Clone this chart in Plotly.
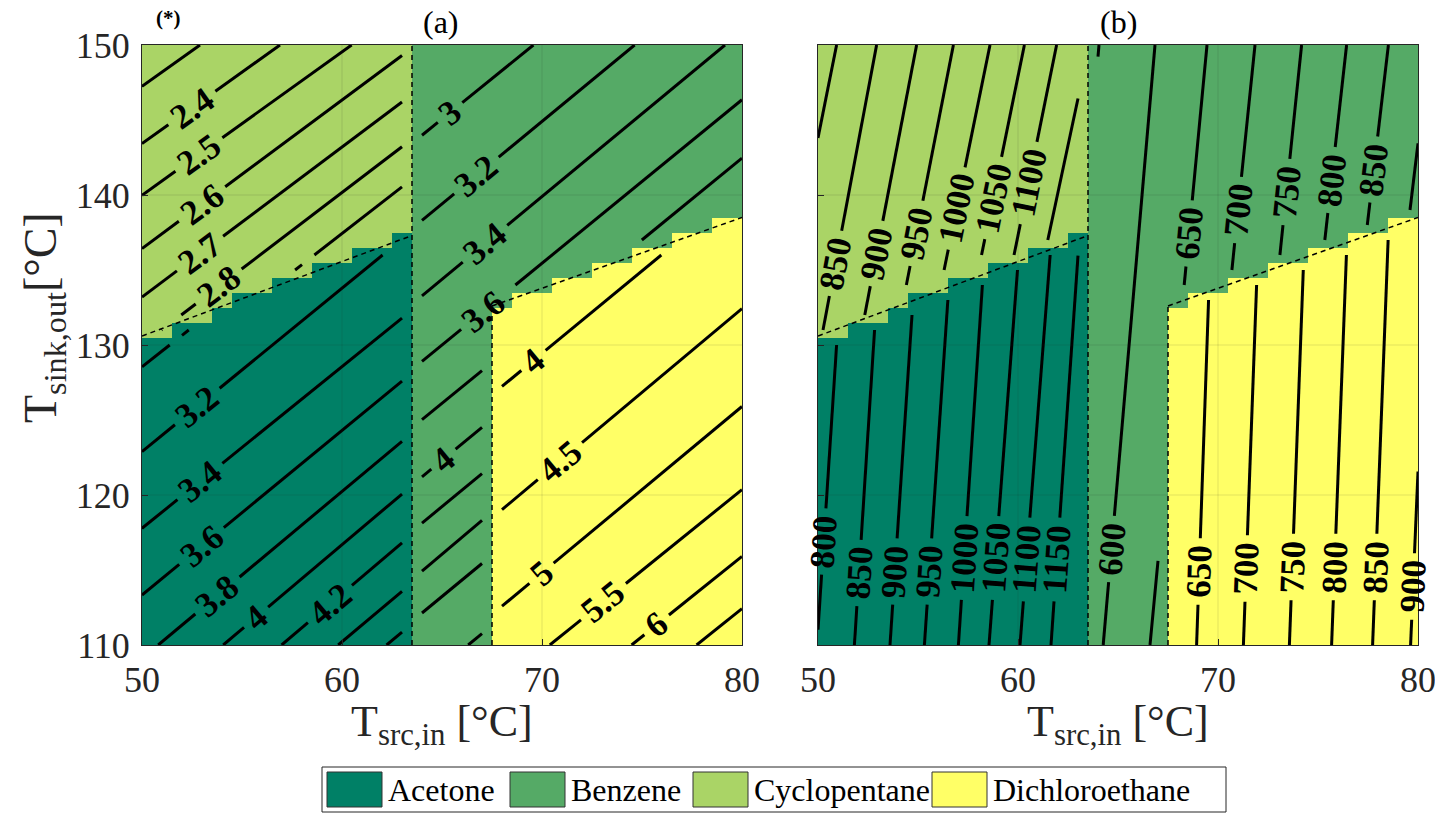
import math
import plotly.graph_objects as go

# ---------------------------------------------------------------- data
FLUIDS = ["Acetone", "Benzene", "Cyclopentane", "Dichloroethane"]
FLUID_COLORS = ["rgb(0,128,102)", "rgb(85,170,102)", "rgb(170,212,102)", "rgb(255,255,102)"]

t_src = list(range(50, 81))     # °C, grid nodes
t_sink = list(range(110, 151))  # °C, grid nodes

# optimal-fluid map (same for both panels)
cyc_first_sink = [131, 131, 132, 132, 133, 134, 134, 135, 135, 136, 136, 137, 137, 138]  # Tsrc 50..63
benzene_src = [64, 65, 66, 67]
dce_last_sink = [132, 133, 133, 134, 134, 135, 135, 136, 136, 137, 137, 138, 138]        # Tsrc 68..80

# smoothed region borders (dashed)
ac_cyc_border_src = [50.0, 63.5]
ac_cyc_border_sink = [130.6, 137.3]
bz_dce_border_src = [67.5, 80.0]
bz_dce_border_sink = [132.6, 138.5]
split1_src, split1_sink = [63.5, 63.5], [110.0, 150.0]
split2_src, split2_sink = [67.5, 67.5], [110.0, 132.6]

# Isolines: Tsrc where each isoline meets Tsink = 110 °C and Tsink = 150 °C,
# plus the Tsink at which its inline label sits (None = no label)
# ---- panel (a): COP
a_ace_levels = [3.0, 3.2, 3.4, 3.6, 3.8, 4.0, 4.2, 4.4, 4.6]
a_ace_src110 = [32.34, 38.18, 42.78, 46.96, 50.81, 54.06, 56.98, 59.81, 62.23]
a_ace_src150 = [70.43, 74.87, 79.90, 83.42, 86.72, 89.59, 92.38, 95.52, 97.95]
a_ace_lab = [None, 125.9, 120.9, 116.6, 113.3, 111.85, 112.73, None, None]

a_bz_levels = [3.0, 3.2, 3.4, 3.6, 3.8, 4.0, 4.2, 4.4, 4.6, 4.8]
a_bz_src110 = [32.53, 38.27, 42.92, 46.65, 50.22, 53.81, 56.61, 59.63, 62.06, 66.31]
a_bz_src150 = [69.57, 74.63, 79.15, 83.35, 86.92, 90.17, 92.98, 95.09, 98.43, 102.7]
a_bz_lab = [145.5, 141.3, 136.75, 132.26, None, 122.39, None, None, None, None]

a_cyc_levels = [2.3, 2.4, 2.5, 2.6, 2.7, 2.8, 2.9]
a_cyc_src110 = [10.8, 14.93, 18.64, 23.30, 26.80, 30.31, 33.53]
a_cyc_src150 = [52.9, 56.90, 60.48, 63.71, 66.80, 69.68, 72.13]
a_cyc_lab = [None, 145.8, 142.7, 139.4, 136.1, 133.9, None]

a_dce_levels = [4.0, 4.5, 5.0, 5.5, 6.0, 6.5]
a_dce_src110 = [52.33, 59.92, 65.67, 70.39, 74.48, 77.73]
a_dce_src150 = [88.69, 95.73, 101.71, 107.5, 111.86, 115.1]
a_dce_lab = [128.97, 122.26, 114.78, 112.89, 111.34, None]

# ---- panel (b)
b_ace_levels = [800, 850, 900, 950, 1000, 1050, 1100, 1150]
b_ace_src110 = [49.95, 51.82, 53.60, 55.32, 57.02, 58.55, 60.10, 61.65]
b_ace_src150 = [51.91, 53.74, 55.60, 57.36, 59.02, 60.83, 62.42, 63.73]
b_ace_lab = [116.9, 114.8, 114.9, 114.9, 115.8, 115.8, 115.7, 115.7]

b_bz_levels = [550, 600, 650, 700, 750, 800, 850, 900]
b_bz_src110 = [61.45, 64.26, 66.60, 68.77, 71.08, 73.08, 75.00, 76.99]
b_bz_src150 = [64.05, 66.85, 69.45, 71.85, 74.18, 76.43, 78.52, 80.59]
b_bz_lab = [None, 116.4, 137.44, 139.0, 140.2, 141.0, 141.7, None]

b_cyc_levels = [800, 850, 900, 950, 1000, 1050, 1100, 1150]
b_cyc_src110 = [44.93, 47.29, 49.17, 50.89, 52.48, 54.20, 55.85, 57.17]
b_cyc_src150 = [50.93, 52.93, 54.93, 56.77, 58.60, 60.32, 61.93, 63.57]
b_cyc_lab = [None, 135.44, 136.1, 137.44, 139.1, 139.8, 140.8, None]

b_dce_levels = [650, 700, 750, 800, 850, 900]
b_dce_src110 = [68.93, 71.27, 73.57, 75.68, 77.73, 79.63]
b_dce_src150 = [69.97, 72.37, 74.68, 76.82, 78.88, 80.91]
b_dce_lab = [114.9, 115.1, 115.2, 115.2, 115.2, 113.9]

x_ticks = [50, 60, 70, 80]
y_ticks = [110, 120, 130, 140, 150]

# ---------------------------------------------------------------- geometry
W, H = 1435, 813
PANEL_PX = [(142, 742), (818, 1418)]
TOP_PX, BOT_PX = 45, 645
X_RANGE = [50, 80]
Y_RANGE = [110, 150]
PX_PER_X = (PANEL_PX[0][1] - PANEL_PX[0][0]) / (X_RANGE[1] - X_RANGE[0])
PX_PER_Y = (BOT_PX - TOP_PX) / (Y_RANGE[1] - Y_RANGE[0])
SERIF = "Liberation Serif, Times New Roman, serif"
INK = "#262626"
LABEL_SIZE = 35


def px_x(p):
    return p / W


def px_y(p):
    return 1 - p / H


# fluid index at every node
fluid_map = []
for ys in t_sink:
    row = []
    for xs in t_src:
        if xs <= 63:
            k = 2 if ys >= cyc_first_sink[xs - 50] else 0
        elif xs in benzene_src:
            k = 1
        else:
            k = 3 if ys <= dce_last_sink[xs - 68] else 1
        row.append(k)
    fluid_map.append(row)


def node_span(col, k):
    ys = [t_sink[j] for j in range(len(t_sink)) if fluid_map[j][col] == k]
    return (min(ys), max(ys)) if ys else None


def valid_cells(k):
    """Column strips whose four corner nodes all belong to fluid k."""
    strips = []
    for i in range(len(t_src) - 1):
        a, b = node_span(i, k), node_span(i + 1, k)
        if a and b:
            lo, hi = max(a[0], b[0]), min(a[1], b[1])
            if hi > lo:
                strips.append((t_src[i], t_src[i + 1], lo, hi))
    return strips


def clip(p0, d, rect):
    x0, y0 = p0
    dx, dy = d
    xmin, xmax, ymin, ymax = rect
    t0, t1 = -1e9, 1e9
    for p, q in ((-dx, x0 - xmin), (dx, xmax - x0), (-dy, y0 - ymin), (dy, ymax - y0)):
        if abs(p) < 1e-12:
            if q < 0:
                return None
        else:
            r = q / p
            if p < 0:
                t0 = max(t0, r)
            else:
                t1 = min(t1, r)
    return (t0, t1) if t0 < t1 - 1e-9 else None


def label_width(s):
    return sum(0.5 if c.isdigit() else 0.25 for c in s) * LABEL_SIZE


def isolines(levels, src110, src150, lab_sink, k, xref, yref):
    strips = valid_cells(k)
    xs, ys, notes = [], [], []
    for lev, xa, xb, ls in zip(levels, src110, src150, lab_sink):
        p0 = (xa, 110.0)
        d = (xb - xa, 40.0)
        ivs = sorted(filter(None, (clip(p0, d, r) for r in strips)))
        merged = []
        for iv in ivs:
            if merged and iv[0] <= merged[-1][1] + 1e-6:
                merged[-1] = (merged[-1][0], max(merged[-1][1], iv[1]))
            else:
                merged.append(iv)
        if ls is not None:
            text = f"{lev:g}"
            tl = (ls - 110.0) / 40.0
            plen = math.hypot(d[0] * PX_PER_X, d[1] * PX_PER_Y)
            half = (label_width(text) / 2 + 7) / plen
            cut = []
            for a, b in merged:
                if b <= tl - half or a >= tl + half:
                    cut.append((a, b))
                else:
                    if a < tl - half:
                        cut.append((a, tl - half))
                    if b > tl + half:
                        cut.append((tl + half, b))
            merged = cut
            ang = math.degrees(math.atan2(d[1] * PX_PER_Y, d[0] * PX_PER_X))
            notes.append(dict(
                x=xa + tl * d[0], y=ls, xref=xref, yref=yref,
                text=f"<b>{text}</b>", showarrow=False, textangle=-ang,
                xanchor="center", yanchor="middle",
                font=dict(family=SERIF, size=LABEL_SIZE, color="black"),
            ))
        for a, b in merged:
            xs += [xa + a * d[0], xa + b * d[0], None]
            ys += [110 + a * d[1], 110 + b * d[1], None]
    return xs, ys, notes


fig = go.Figure()
annotations = []

colorscale = [[0, FLUID_COLORS[0]], [1 / 6, FLUID_COLORS[0]], [1 / 6, FLUID_COLORS[1]], [0.5, FLUID_COLORS[1]],
              [0.5, FLUID_COLORS[2]], [5 / 6, FLUID_COLORS[2]], [5 / 6, FLUID_COLORS[3]], [1, FLUID_COLORS[3]]]

panels = [
    ("x", "y", [(a_ace_levels, a_ace_src110, a_ace_src150, a_ace_lab, 0),
                (a_bz_levels, a_bz_src110, a_bz_src150, a_bz_lab, 1),
                (a_cyc_levels, a_cyc_src110, a_cyc_src150, a_cyc_lab, 2),
                (a_dce_levels, a_dce_src110, a_dce_src150, a_dce_lab, 3)]),
    ("x2", "y2", [(b_ace_levels, b_ace_src110, b_ace_src150, b_ace_lab, 0),
                  (b_bz_levels, b_bz_src110, b_bz_src150, b_bz_lab, 1),
                  (b_cyc_levels, b_cyc_src110, b_cyc_src150, b_cyc_lab, 2),
                  (b_dce_levels, b_dce_src110, b_dce_src150, b_dce_lab, 3)]),
]

for xa, ya, groups in panels:
    fig.add_trace(go.Heatmap(x=t_src, y=t_sink, z=fluid_map, zmin=0, zmax=3, colorscale=colorscale,
                             showscale=False, hoverinfo="skip", xaxis=xa, yaxis=ya))
    for levels, s110, s150, lab, k in groups:
        lx, ly, notes = isolines(levels, s110, s150, lab, k, xa, ya)
        fig.add_trace(go.Scatter(x=lx, y=ly, mode="lines", line=dict(color="black", width=3),
                                 hoverinfo="skip", showlegend=False, xaxis=xa, yaxis=ya))
        annotations += notes
    for bx, by in ((ac_cyc_border_src, ac_cyc_border_sink), (bz_dce_border_src, bz_dce_border_sink),
                   (split1_src, split1_sink), (split2_src, split2_sink)):
        fig.add_trace(go.Scatter(x=bx, y=by, mode="lines", line=dict(color="black", width=1.5, dash="5px,4px"),
                                 hoverinfo="skip", showlegend=False, xaxis=xa, yaxis=ya))

# faint grid drawn over the coloured map
shapes = []
for xa, ya in (("x", "y"), ("x2", "y2")):
    for v in x_ticks[1:-1]:
        shapes.append(dict(type="line", xref=xa, yref=f"{ya} domain", x0=v, x1=v, y0=0, y1=1,
                           line=dict(color="rgba(38,38,38,0.13)", width=1), layer="above"))
    for v in y_ticks[1:-1]:
        shapes.append(dict(type="line", xref=f"{xa} domain", yref=ya, x0=0, x1=1, y0=v, y1=v,
                           line=dict(color="rgba(38,38,38,0.13)", width=1), layer="above"))

axis_common = dict(showgrid=False, zeroline=False, ticks="inside", ticklen=6, tickcolor=INK,
                   showline=True, mirror=True, linecolor=INK, linewidth=1, automargin=False,
                   ticklabeloverflow="allow", tickfont=dict(family=SERIF, size=36, color=INK))
ydom = [px_y(BOT_PX), px_y(TOP_PX)]
fig.update_layout(
    width=W, height=H, autosize=False, margin=dict(l=0, r=0, t=0, b=0, pad=0),
    paper_bgcolor="white", plot_bgcolor="white", showlegend=False,
    xaxis=dict(domain=[px_x(PANEL_PX[0][0]), px_x(PANEL_PX[0][1])], range=X_RANGE, tickvals=x_ticks,
               anchor="y", ticklabelstandoff=3, **axis_common),
    yaxis=dict(domain=ydom, range=Y_RANGE, tickvals=y_ticks, anchor="x", ticklabelstandoff=4, **axis_common),
    xaxis2=dict(domain=[px_x(PANEL_PX[1][0]), px_x(PANEL_PX[1][1])], range=X_RANGE, tickvals=x_ticks,
                anchor="y2", ticklabelstandoff=3, **axis_common),
    yaxis2=dict(domain=ydom, range=Y_RANGE, tickvals=y_ticks, anchor="x2", showticklabels=False,
                **axis_common),
)

# axis titles and panel tags
title_font = dict(family=SERIF, size=44, color=INK)
for (p0, p1) in PANEL_PX:
    annotations.append(dict(x=px_x((p0 + p1) / 2), y=px_y(724), xref="paper", yref="paper",
                            text="T<sub>src,in</sub> [°C]", showarrow=False, font=title_font,
                            xanchor="center", yanchor="middle"))
annotations.append(dict(x=px_x(44), y=px_y(318), xref="paper", yref="paper", textangle=-90,
                        text="T<sub>sink,out</sub>[°C]", showarrow=False, font=dict(family=SERIF, size=46, color=INK),
                        xanchor="center", yanchor="middle"))
for tag, cx in (("(a)", 441), ("(b)", 1118)):
    annotations.append(dict(x=px_x(cx), y=px_y(22), xref="paper", yref="paper", text=tag, showarrow=False,
                            font=dict(family=SERIF, size=32, color="black"), xanchor="center", yanchor="middle"))
annotations.append(dict(x=px_x(168), y=px_y(18), xref="paper", yref="paper", text="<b>(*)</b>", showarrow=False,
                        font=dict(family=SERIF, size=21, color="black"), xanchor="center", yanchor="middle"))

# legend box
shapes.append(dict(type="rect", xref="paper", yref="paper", x0=px_x(322), x1=px_x(1226), y0=px_y(812),
                   y1=px_y(767), line=dict(color=INK, width=1), fillcolor="white", layer="above"))
swatch_px = [327, 510, 693, 932]
for name, color, sx in zip(FLUIDS, FLUID_COLORS, swatch_px):
    shapes.append(dict(type="rect", xref="paper", yref="paper", x0=px_x(sx), x1=px_x(sx + 55),
                       y0=px_y(807), y1=px_y(772), line=dict(color="#333333", width=1),
                       fillcolor=color, layer="above"))
    annotations.append(dict(x=px_x(sx + 59), y=px_y(790), xref="paper", yref="paper", text=name,
                            showarrow=False, xanchor="left", yanchor="middle",
                            font=dict(family=SERIF, size=32, color="black")))

fig.update_layout(shapes=shapes, annotations=annotations)
fig.write_html("out.html", post_script="document.body.style.margin='0';document.body.style.overflow='hidden';")
